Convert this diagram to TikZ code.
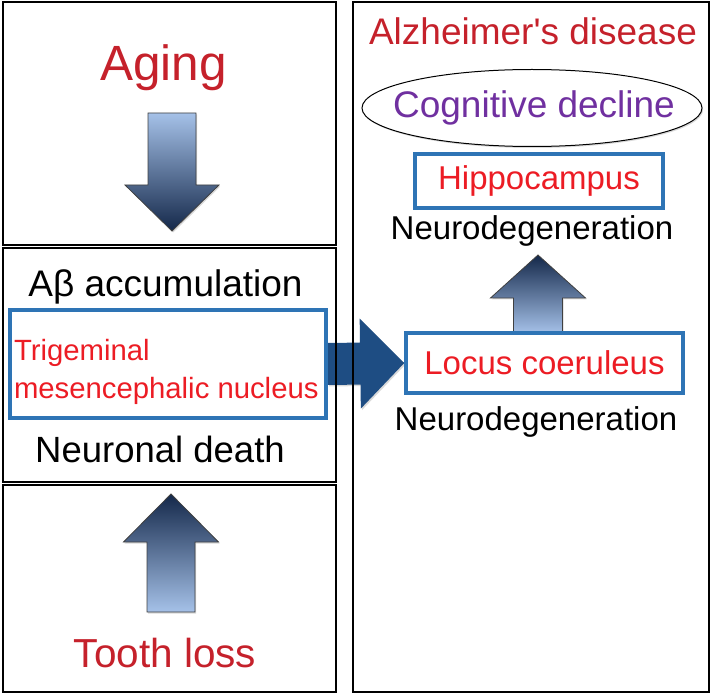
\documentclass[tikz,border=0pt]{standalone}
\usepackage{fontspec}
\setmainfont{Liberation Sans}[Ligatures=TeXOff]
\usetikzlibrary{shapes.geometric,calc,backgrounds,shadows}

\definecolor{titlered}{HTML}{C5212B}
\definecolor{boxred}{HTML}{EC1C24}
\definecolor{boxblue}{HTML}{2E74B5}
\definecolor{cogpurple}{HTML}{7030A0}
\definecolor{arrowlight}{HTML}{A5C1E8}
\definecolor{arrowmid}{HTML}{7397D0}
\definecolor{arrowdark}{HTML}{14284A}
\definecolor{arrownavy}{HTML}{1E4D83}

\newcommand{\fs}[1]{\fontsize{#1}{#1}\selectfont}
% block arrow: [style]{tail}{tip}{half shaft}{half head}{head length}
\newcommand{\blockarrow}[6][]{%
  \coordinate (neck) at ($(#3)!#6!(#2)$);
  \path[#1] ($(#2)!#4!90:(#3)$) -- ($(neck)!#4!90:(#3)$)
    -- ($(neck)!#5!90:(#3)$) -- (#3) -- ($(neck)!#5!-90:(#3)$)
    -- ($(neck)!#4!-90:(#3)$) -- ($(#2)!#4!-90:(#3)$) -- cycle;
}

\begin{document}
\begin{tikzpicture}[%
    x=1pt, y=-1pt,
    panel/.style={draw, line width=1.6pt},
    title/.style={text=titlered, anchor=base},
    plain/.style={text=black, anchor=base},
    region/.style={draw=boxblue, line width=3.5pt, text=boxred},
    shadowed/.style={drop shadow={opacity=.3, shadow xshift=1.2pt, shadow yshift=-1.5pt}},
    downarrow/.style={shadowed, draw=black!75, line width=.8pt,
      top color=arrowlight, middle color=arrowmid, bottom color=arrowdark},
    uparrow/.style={shadowed, draw=black!75, line width=.8pt,
      top color=arrowdark, middle color=arrowmid, bottom color=arrowlight},
    bigarrow/.style={shadowed, fill=arrownavy}
  ]
    \useasboundingbox (0,0) rectangle (713,695);

    % left column
    \node[title, font=\fs{49.5}] (aging) at (163.5,81) {Aging};
    \node[plain, font=\fs{37}] (abeta) at (165.5,297) {Aβ accumulation};
    \node[region, minimum width=316pt, minimum height=108pt, inner xsep=4pt,
          text width=308pt, align=flush left, font=\fontsize{29.3}{38}\selectfont]
          (trig) at (168,364) {\rule{0pt}{38pt}Trigeminal\\mesencephalic nucleus};
    \node[plain, font=\fs{36.5}] (death) at (160,462) {Neuronal death};
    \node[title, font=\fs{40.5}] (tooth) at (165,667) {Tooth loss};

    % right column
    \node[title, font=\fs{37}] (ad) at (533,45) {Alzheimer's disease};
    \node[text=cogpurple, font=\fs{37}] (cog) at (534,108) {Cognitive decline};
    \node[region, minimum width=248pt, minimum height=54pt, font=\fs{33}]
          (hippo) at (539,181) {Hippocampus};
    \node[plain, font=\fs{33}] (ndtop) at (532,240) {Neurodegeneration};
    \node[region, minimum width=277pt, minimum height=60pt, font=\fs{33}]
          (locus) at (544.5,363) {Locus coeruleus};
    \node[plain, font=\fs{33}] (ndbot) at (536,430) {Neurodegeneration};

    \coordinate (agingtail) at (172,113);
    \coordinate (agingtip)  at (172,231);
    \coordinate (toothtail) at (171,612);
    \coordinate (toothtip)  at (171,494);
    \coordinate (locustail) at (538,333);
    \coordinate (locustip)  at (538,255);

    \begin{pgfonlayer}{background}
      \draw[line width=1pt, fill=white, shadowed] (532,108) ellipse [x radius=170, y radius=38.5];
      \blockarrow[downarrow]{agingtail}{agingtip}{24pt}{47pt}{46pt}
      \blockarrow[uparrow]{toothtail}{toothtip}{24pt}{47.5pt}{48pt}
      \blockarrow[uparrow]{locustail}{locustip}{24.5pt}{47.5pt}{43pt}
      \blockarrow[bigarrow]{trig.east}{locus.west}{21pt}{45pt}{44pt}
    \end{pgfonlayer}

    % panels
    \draw[panel] (3,2) rectangle (336,245);
    \draw[panel] (3,248) rectangle (336,482);
    \draw[panel] (3,485) rectangle (336,692);
    \draw[panel] (353,2) rectangle (709,692);
  \end{tikzpicture}
\end{document}
